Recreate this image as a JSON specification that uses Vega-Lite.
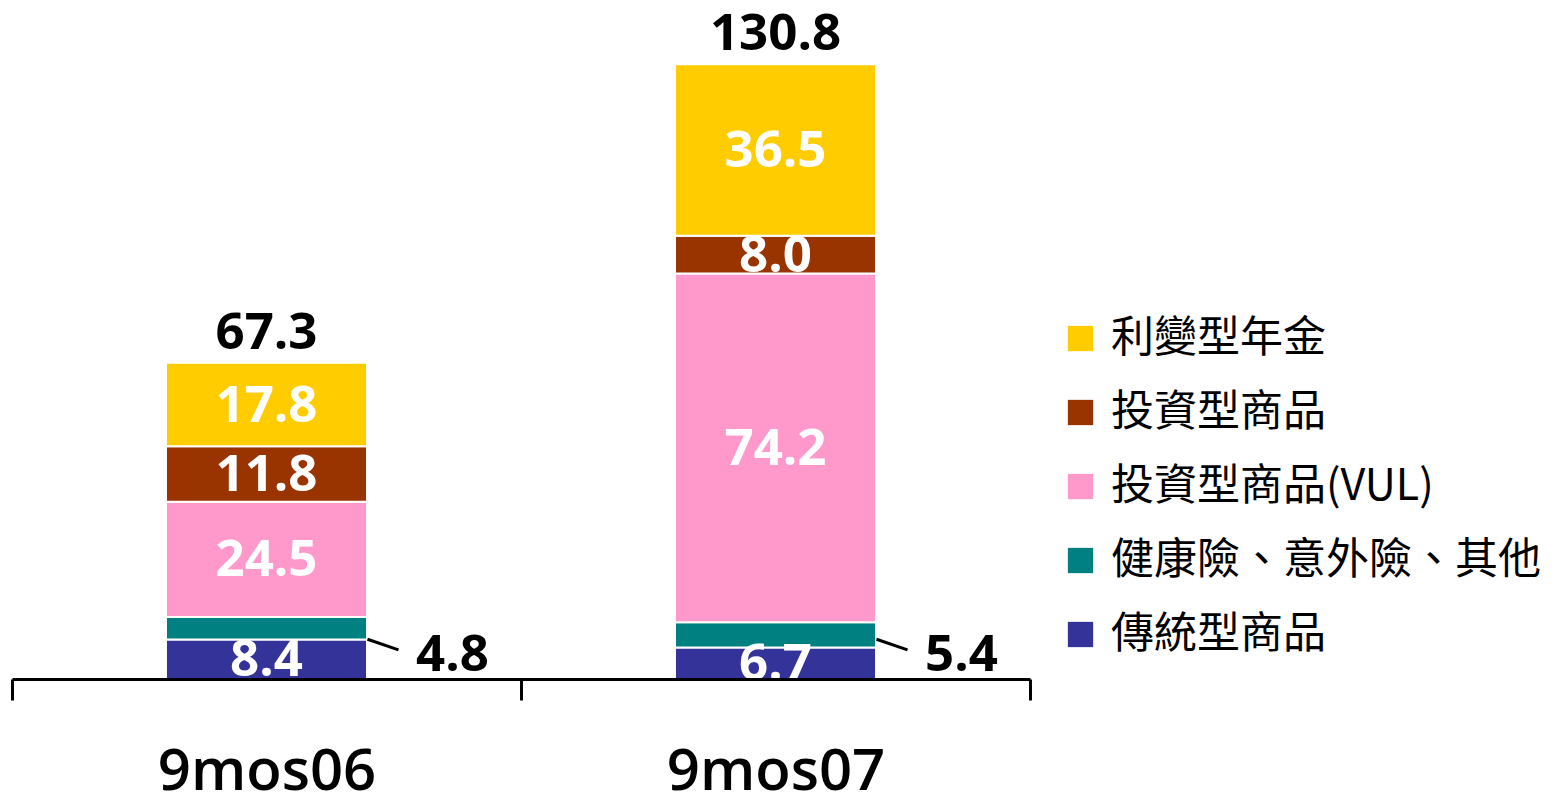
{
  "$schema": "https://vega.github.io/schema/vega-lite/v6.json",
  "width": 1018,
  "height": 658,
  "autosize": {"type": "none"},
  "padding": {"left": 12, "top": 21, "right": 524, "bottom": 116},
  "background": "white",
  "config": {"view": {"stroke": null}},
  "data": {
    "values": [
      {"period": "9mos06", "category": "傳統型商品", "value": 8.4},
      {"period": "9mos06", "category": "健康險、意外險、其他", "value": 4.8},
      {"period": "9mos06", "category": "投資型商品(VUL)", "value": 24.5},
      {"period": "9mos06", "category": "投資型商品", "value": 11.8},
      {"period": "9mos06", "category": "利變型年金", "value": 17.8},
      {"period": "9mos07", "category": "傳統型商品", "value": 6.7},
      {"period": "9mos07", "category": "健康險、意外險、其他", "value": 5.4},
      {"period": "9mos07", "category": "投資型商品(VUL)", "value": 74.2},
      {"period": "9mos07", "category": "投資型商品", "value": 8.0},
      {"period": "9mos07", "category": "利變型年金", "value": 36.5}
    ]
  },
  "transform": [
    {"calculate": "indexof(['傳統型商品','健康險、意外險、其他','投資型商品(VUL)','投資型商品','利變型年金'], datum.category)", "as": "rank"},
    {"stack": "value", "groupby": ["period"], "sort": [{"field": "rank", "order": "ascending"}], "as": ["v0", "v1"]},
    {"calculate": "(datum.v0 + datum.v1) / 2", "as": "mid"}
  ],
  "encoding": {
    "x": {
      "field": "period",
      "type": "nominal",
      "sort": ["9mos06", "9mos07"],
      "scale": {"type": "band", "paddingInner": 0, "paddingOuter": 0},
      "axis": {
        "title": null,
        "orient": "bottom",
        "domainColor": "black",
        "domainWidth": 3,
        "tickColor": "black",
        "tickWidth": 3,
        "tickSize": 21,
        "tickBand": "extent",
        "labelAngle": 0,
        "labelFont": "Open Sans",
        "labelFontSize": 58,
        "labelFontWeight": 600,
        "labelColor": "black",
        "labelBaseline": "alphabetic",
        "labelPadding": 89,
        "labelLimit": 0,
        "zindex": 1
      }
    }
  },
  "layer": [
    {
      "mark": {"type": "bar", "width": {"band": 0.395}, "stroke": "white", "strokeWidth": 2},
      "encoding": {
        "y": {"field": "v0", "type": "quantitative", "scale": {"domain": [0, 140]}, "axis": null},
        "y2": {"field": "v1"},
        "color": {
          "field": "category",
          "type": "nominal",
          "scale": {
            "domain": ["利變型年金", "投資型商品", "投資型商品(VUL)", "健康險、意外險、其他", "傳統型商品"],
            "range": ["#FFCC00", "#993300", "#FF99CC", "#008080", "#333399"]
          },
          "legend": {
            "orient": "none",
            "legendX": 1047,
            "legendY": 296,
            "title": null,
            "symbolType": "square",
            "symbolSize": 640,
            "symbolStrokeWidth": 0,
            "symbolOpacity": 1,
            "labelFont": "Noto Sans CJK TC",
            "labelFontSize": 43,
            "labelColor": "black",
            "labelOffset": 9,
            "labelLimit": 0,
            "rowPadding": 30
          }
        }
      }
    },
    {
      "transform": [{"filter": "datum.category !== '健康險、意外險、其他'"}],
      "mark": {"type": "text", "color": "white", "font": "Open Sans", "fontWeight": "bold", "fontSize": 51, "baseline": "middle", "dy": 2},
      "encoding": {
        "y": {"field": "mid", "type": "quantitative", "scale": {"domain": [0, 140]}, "axis": null},
        "text": {"field": "value", "type": "quantitative", "format": ".1f"}
      }
    },
    {
      "transform": [{"aggregate": [{"op": "sum", "field": "value", "as": "total"}], "groupby": ["period"]}],
      "mark": {"type": "text", "color": "black", "font": "Open Sans", "fontWeight": "bold", "fontSize": 51, "baseline": "alphabetic", "dy": -14},
      "encoding": {
        "y": {"field": "total", "type": "quantitative", "scale": {"domain": [0, 140]}, "axis": null},
        "text": {"field": "total", "type": "quantitative", "format": ".1f"}
      }
    },
    {
      "transform": [{"filter": "datum.category === '健康險、意外險、其他'"}],
      "mark": {"type": "rule", "color": "black", "strokeWidth": 3, "xOffset": 101, "x2Offset": 132},
      "encoding": {
        "x2": {"field": "period"},
        "y": {"datum": 8.45, "type": "quantitative", "scale": {"domain": [0, 140]}, "axis": null},
        "y2": {"datum": 6.2}
      }
    },
    {
      "transform": [{"filter": "datum.category === '健康險、意外險、其他'"}],
      "mark": {"type": "text", "color": "black", "font": "Open Sans", "fontWeight": "bold", "fontSize": 51, "baseline": "middle", "dx": 186},
      "encoding": {
        "y": {"datum": 4.9, "type": "quantitative", "scale": {"domain": [0, 140]}, "axis": null},
        "text": {"field": "value", "type": "quantitative", "format": ".1f"}
      }
    }
  ]
}
